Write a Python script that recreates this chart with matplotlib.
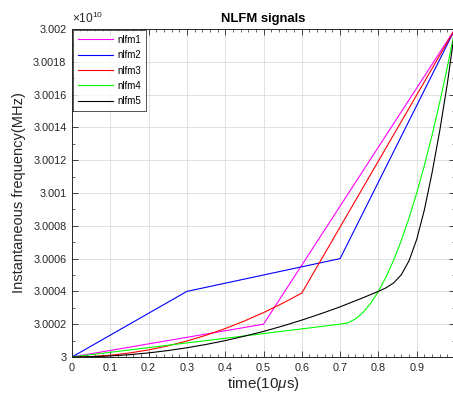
import matplotlib
matplotlib.use("Agg")
import matplotlib.pyplot as plt
from matplotlib.ticker import MultipleLocator, FuncFormatter

plt.rcParams['font.family'] = ['Liberation Sans', 'DejaVu Sans']
plt.rcParams['mathtext.fontset'] = 'custom'
plt.rcParams['mathtext.rm'] = 'Liberation Sans'
plt.rcParams['mathtext.it'] = 'Liberation Sans:italic'

# instantaneous frequency of each nlfm signal (x 1e10)
t1 = [0, 0.5, 1.0]
nlfm1 = [3.0, 3.0002, 3.002]

t2 = [0, 0.3, 0.7, 1.0]
nlfm2 = [3.0, 3.0004, 3.0006, 3.002]

t3 = [0, 0.05, 0.1, 0.15, 0.2, 0.25, 0.3, 0.35, 0.4, 0.45, 0.5, 0.55, 0.6, 1.0]
nlfm3 = [3.0, 3.0000027, 3.0000108, 3.0000244, 3.0000433, 3.0000677,
         3.0000975, 3.0001327, 3.0001733, 3.0002194, 3.0002708, 3.0003277,
         3.00039, 3.002]

t4 = [0, 0.7, 0.72, 0.74, 0.76, 0.78, 0.8, 0.82, 0.84, 0.86, 0.88, 0.9,
      0.92, 0.94, 0.96, 0.98, 1.0]
nlfm4 = [3.0, 3.0002, 3.000208, 3.000232, 3.000272, 3.000328, 3.0004,
         3.000488, 3.000592, 3.000712, 3.000848, 3.001, 3.001168, 3.001352,
         3.001552, 3.001768, 3.002]

t5 = [0, 0.05, 0.1, 0.15, 0.2, 0.25, 0.3, 0.35, 0.4, 0.45, 0.5, 0.55, 0.6,
      0.65, 0.7, 0.75, 0.8, 0.82, 0.84, 0.86, 0.88, 0.9, 0.92, 0.94, 0.96,
      0.98, 1.0]
nlfm5 = [3.0, 3.0000016, 3.0000063, 3.0000141, 3.000025, 3.0000391,
         3.0000563, 3.0000766, 3.0001, 3.000127, 3.000156, 3.000189,
         3.000225, 3.000264, 3.000306, 3.000352, 3.0004, 3.000422, 3.000452,
         3.000502, 3.000587, 3.000717, 3.000897, 3.001122, 3.001377,
         3.001667, 3.002]

names = ['nlfm1', 'nlfm2', 'nlfm3', 'nlfm4', 'nlfm5']
colors = ['#ff00ff', '#0000ff', '#ff0000', '#00ff00', '#000000']

fig = plt.figure(figsize=(4.53, 3.96), dpi=100)
ax = fig.add_axes([72/453, 1 - 357/396, 383/453, 328/396])

for t, f, c, n in zip([t1, t2, t3, t4, t5], [nlfm1, nlfm2, nlfm3, nlfm4, nlfm5], colors, names):
    ax.plot(t, f, color=c, lw=0.8, label=n)

ax.set_xlim(0, 1)
ax.set_ylim(3.0, 3.002)
ax.xaxis.set_major_locator(MultipleLocator(0.1))
ax.xaxis.set_minor_locator(MultipleLocator(0.02))
ax.yaxis.set_major_locator(MultipleLocator(0.0002))
ax.yaxis.set_minor_locator(MultipleLocator(0.0001))
ax.xaxis.set_major_formatter(FuncFormatter(lambda v, p: '%g' % round(v, 2)))
ax.yaxis.set_major_formatter(FuncFormatter(lambda v, p: '%g' % round(v, 5)))

ax.tick_params(which='both', direction='in', top=True, right=True,
               labelsize=7.8, colors='#262626', pad=4)
ax.tick_params(which='major', length=4, width=0.6)
ax.tick_params(which='minor', length=2.5, width=0.5)
ax.grid(True, which='major', color='#dcdcdc', lw=0.6)
ax.set_axisbelow(True)
for s in ax.spines.values():
    s.set_color('#262626')
    s.set_linewidth(0.7)

ax.set_title('NLFM signals', fontsize=9.4, fontweight='bold', pad=5)
ax.set_xlabel(r'time(10$\mu$s)', fontsize=11, color='#262626', labelpad=2)
ax.set_ylabel('Instantaneous frequency(MHz)', fontsize=10.5, color='#262626', labelpad=5)
ax.text(0, 1.008, r'$\times10^{10}$', transform=ax.transAxes, fontsize=8.6,
        color='#262626', ha='left', va='bottom')

leg = ax.legend(loc='upper left', fontsize=7, frameon=True, fancybox=False,
                borderaxespad=0.1, handlelength=3.6, handletextpad=0.5,
                labelspacing=0.55, borderpad=0.5)
leg.get_frame().set_edgecolor('#262626')
leg.get_frame().set_linewidth(0.7)

fig.savefig('out.png', dpi=100)
